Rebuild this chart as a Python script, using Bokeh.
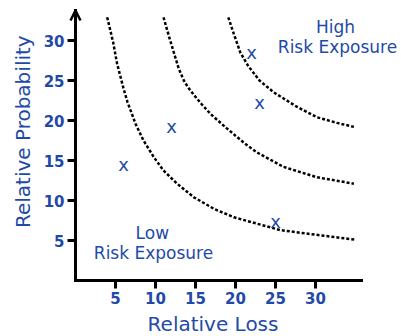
import math
from bokeh.plotting import figure
from bokeh.models import Range1d, FixedTicker, Arrow, OpenHead, ColumnDataSource
from bokeh.core.properties import value
from bokeh.embed import file_html
from bokeh.resources import INLINE

# ---- data ----
x_ticks = [5, 10, 15, 20, 25, 30]
y_ticks = [5, 10, 15, 20, 25, 30]

# iso-risk curves (relative loss, relative probability)
low_curve_x = [3.96, 4.7, 5.2, 6.0, 6.5, 7.5, 8.5, 9.8, 11.0, 12.7, 14.8, 17.3, 19.8, 22.7, 25.6, 29.4, 35.0]
low_curve_y = [32.9, 29.8, 27.1, 24.0, 22.3, 19.6, 17.5, 15.4, 13.75, 12.1, 10.4, 8.96, 7.9, 7.1, 6.3, 5.8, 5.1]
mid_curve_x = [11.0, 11.66, 12.29, 12.9, 13.54, 14.1, 14.8, 15.8, 16.9, 18.7, 20.0, 21.2, 22.7, 26.0, 30.2, 34.8]
mid_curve_y = [32.9, 30.6, 28.5, 26.5, 25.0, 24.1, 23.2, 22.0, 20.8, 19.2, 18.1, 17.1, 16.0, 14.2, 12.9, 12.1]
high_curve_x = [19.1, 19.8, 20.6, 21.6, 23.0, 24.8, 27.7, 30.2, 32.7, 34.8]
high_curve_y = [32.9, 30.8, 28.5, 26.8, 25.0, 23.5, 21.7, 20.4, 19.7, 19.2]

# risk items
item_loss = [6, 12, 22, 23, 25]
item_prob = [14.5, 19.25, 28.5, 22.25, 7.4]

# region labels
region_text = ["High", "Risk Exposure", "Low", "Risk Exposure"]
region_x = [32.5, 32.75, 9.6, 9.75]
region_y = [31.75, 29.25, 6.0, 3.4]

x_title = "Relative Loss"
y_title = "Relative Probability"

BLUE = "#1f4aa8"
FONT = "DejaVu Sans"

p = figure(width=401, height=336, output_backend="svg", toolbar_location=None,
           x_range=Range1d(-9.375, 40.75), y_range=Range1d(-7, 35),
           min_border=0, min_border_left=0, min_border_right=0,
           min_border_top=0, min_border_bottom=0)
p.outline_line_color = None
p.xgrid.visible = False
p.ygrid.visible = False
p.background_fill_color = "white"
p.border_fill_color = "white"

p.xaxis.fixed_location = 0
p.yaxis.fixed_location = 0
p.xaxis.bounds = (0, 35.75)
p.yaxis.bounds = (0, 33.75)

for ax, ticks in ((p.xaxis[0], x_ticks), (p.yaxis[0], y_ticks)):
    ax.ticker = FixedTicker(ticks=ticks)
    ax.minor_tick_line_color = None
    ax.axis_line_width = 3
    ax.axis_line_color = "black"
    ax.axis_line_cap = "square"
    ax.major_tick_line_width = 3
    ax.major_tick_line_color = "black"
    ax.major_tick_out = 8
    ax.major_tick_in = 0
    ax.major_label_standoff = 3
    ax.major_label_text_font = FONT
    ax.major_label_text_font_style = "bold"
    ax.major_label_text_font_size = "15px"
    ax.major_label_text_color = BLUE

p.add_layout(Arrow(end=OpenHead(size=10, line_width=2.5, line_color="black"),
                   x_start=0, y_start=0, x_end=0, y_end=33.75,
                   line_width=3, line_color="black"))

for cx, cy in ((low_curve_x, low_curve_y), (mid_curve_x, mid_curve_y), (high_curve_x, high_curve_y)):
    p.line(cx, cy, line_color="black", line_width=2.5, line_dash="3 2")

p.text(x=item_loss, y=item_prob, text=["x"] * len(item_loss), text_color=BLUE,
       text_font=value(FONT), text_font_size="18px", text_align="center", text_baseline="middle")

src = ColumnDataSource(dict(x=region_x, y=region_y, t=region_text))
p.text(x="x", y="y", text="t", source=src, text_color=BLUE, text_font=value(FONT),
       text_font_size="17px", text_align="center", text_baseline="middle")

p.text(x=[17.19], y=[-5.44], text=[x_title], text_color=BLUE, text_font=value(FONT),
       text_font_size="20px", text_align="center", text_baseline="middle")
p.text(x=[-6.6], y=[18.6], text=[y_title], angle=math.pi / 2, text_color=BLUE,
       text_font=value(FONT), text_font_size="20px", text_align="center",
       text_baseline="middle")

open("out.html", "w").write(file_html(p, INLINE))
